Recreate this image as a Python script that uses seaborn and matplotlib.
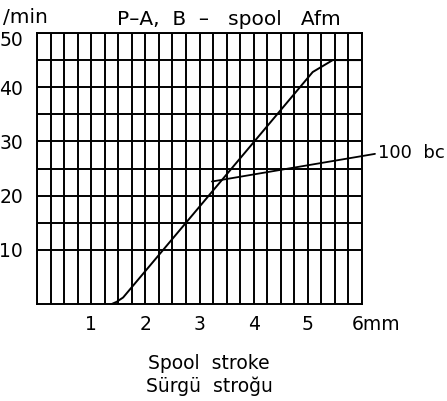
import numpy as np
import pandas as pd
import matplotlib
matplotlib.use("Agg")
import matplotlib.pyplot as plt
import matplotlib.transforms as mtransforms
import seaborn as sns

# ---------------------------------------------------------
# Data (spool stroke mm -> flow l/min)
# ---------------------------------------------------------
stroke = [1.38, 1.47, 1.59, 5.09, 5.46, 6.0]
flow = [0.0, 0.4, 1.2, 42.8, 45.0, 45.0]

x_ticks = [1, 2, 3, 4, 5, 6]
x_tick_labels = ["1", "2", "3", "4", "5", "6mm"]
y_ticks = [10, 20, 30, 40, 50]
y_tick_labels = ["10", "20", "30", "40", "50"]

x_grid = np.arange(0, 6.01, 0.25)
y_grid = [10, 15, 20, 25, 30, 35, 40, 45]

df = pd.DataFrame({"stroke": stroke, "flow": flow})

# ---------------------------------------------------------
# Style
# ---------------------------------------------------------
sns.set_style("white")
plt.rcParams["font.family"] = ["DejaVu Sans"]
plt.rcParams["font.size"] = 13.5
plt.rcParams["text.color"] = "black"
plt.rcParams["xtick.color"] = "black"
plt.rcParams["ytick.color"] = "black"
plt.rcParams["axes.labelcolor"] = "black"

fig = plt.figure(figsize=(4.47, 4.01), dpi=100)
ax = fig.add_axes([37 / 447, 97 / 401, 325 / 447, 271 / 401])

sns.lineplot(data=df, x="stroke", y="flow", color="black", linewidth=1.4,
             ax=ax, sort=False)

ax.set_xlim(0, 6)
ax.set_ylim(0, 50)

# grid (minor + major so every line shows)
ax.set_xticks(x_grid, minor=True)
ax.set_yticks(y_grid, minor=True)
ax.set_xticks(x_ticks)
ax.set_xticklabels(x_tick_labels)
ax.set_yticks(y_ticks)
ax.set_yticklabels(y_tick_labels)
ax.grid(which="both", color="black", linewidth=1.4)

ax.tick_params(which="both", length=0)
ax.tick_params(axis="x", pad=8, labelsize=13.5)
ax.tick_params(axis="y", pad=10, labelsize=13.5)

# last x label "6mm" starts at the line
lab = ax.get_xticklabels()[-1]
lab.set_horizontalalignment("left")
lab.set_transform(lab.get_transform() +
                  mtransforms.ScaledTranslation(-10 / 100, 0, fig.dpi_scale_trans))

# top y label sits a little lower in the original
top = ax.get_yticklabels()[-1]
top.set_transform(top.get_transform() +
                  mtransforms.ScaledTranslation(0, -5 / 100, fig.dpi_scale_trans))

for s in ax.spines.values():
    s.set_visible(True)
    s.set_color("black")
    s.set_linewidth(1.4)

ax.set_ylabel("")
ax.set_xlabel("Spool  stroke\nSürgü  stroğu", fontsize=13.5, linespacing=1.2)
ax.xaxis.set_label_coords((209 - 37) / 325, -(354 - 304) / 271)
ax.xaxis.label.set_verticalalignment("top")

ax.text(0.59, 1.03, "P–A,  B  –   spool   Afm", transform=ax.transAxes,
        ha="center", va="baseline", fontsize=14.5)
fig.text(3 / 447, 1 - 23 / 401, "/min", ha="left", va="baseline", fontsize=14.5)

ax.annotate("100  bc", xy=(3.23, 22.6), xytext=(6.30, 27.8),
            textcoords="data", ha="left", va="center", fontsize=13,
            annotation_clip=False,
            arrowprops=dict(arrowstyle="-", color="black", lw=1.3,
                            shrinkA=0, shrinkB=0, relpos=(0, 0.5)))

fig.savefig("out.png", dpi=100)
